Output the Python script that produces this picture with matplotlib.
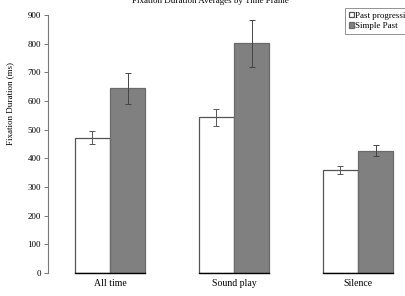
import matplotlib
matplotlib.use("Agg")
import matplotlib.pyplot as plt
import numpy as np

categories = ["All time", "Sound play", "Silence"]
series_names = ["Past progressive", "Simple Past"]
past_prog = [472, 543, 359]
past_prog_err = [23, 30, 14]
simple_past = [644, 801, 427]
simple_past_err = [55, 83, 19]
yticks = [0, 100, 200, 300, 400, 500, 600, 700, 800, 900]

plt.rcParams['font.family'] = ['Liberation Serif', 'DejaVu Serif']

W, H = 405, 296
fig = plt.figure(figsize=(W/100, H/100), dpi=100)
ax = fig.add_axes([48/W, 23/H, 372/W, 258/H])

x = np.arange(len(categories))
bw = 0.285
ax.bar(x - bw/2, past_prog, bw, color='white', edgecolor='#555555', linewidth=0.9,
       label=series_names[0], zorder=2)
ax.bar(x + bw/2, simple_past, bw, color='#808080', edgecolor='#6a6a6a', linewidth=0.9,
       label=series_names[1], zorder=2)
ax.errorbar(x - bw/2, past_prog, yerr=past_prog_err, fmt='none', ecolor='#555555',
            elinewidth=0.7, capsize=2.5, capthick=0.7, zorder=3)
ax.errorbar(x + bw/2, simple_past, yerr=simple_past_err, fmt='none', ecolor='#444444',
            elinewidth=0.7, capsize=2.5, capthick=0.7, zorder=3)
# baseline under bars
for xi in x:
    ax.plot([xi - bw, xi + bw], [0, 0], color='black', lw=1.0, zorder=4, clip_on=False)

ax.set_xlim(-0.5, 2.5)
ax.set_ylim(0, 900)
ax.set_yticks(yticks)
ax.set_xticks(x)
ax.set_xticklabels(categories, fontsize=7)
ax.tick_params(axis='x', length=0, pad=4)
ax.tick_params(axis='y', labelsize=6.5, length=3, width=0.7, color='#777777', pad=2)
for s in ['top', 'right', 'bottom']:
    ax.spines[s].set_visible(False)
ax.spines['left'].set_color('#777777')
ax.spines['left'].set_linewidth(0.8)

fig.text(10/W, 1 - 103/H, "Fixation Duration (ms)", rotation=90, fontsize=6.5,
         ha='center', va='center')
fig.text(210/W, 1 - 1/H, "Fixation Duration Averages by Time Frame", fontsize=6.5,
         ha='center', va='center')

leg = fig.legend(loc='upper left', bbox_to_anchor=(345/W, 1 - 8/H), fontsize=6.5,
                 frameon=True, fancybox=False, handlelength=0.6, handleheight=0.6,
                 handletextpad=0.1, borderpad=0.4, labelspacing=0.3, borderaxespad=0)
leg.get_frame().set_edgecolor('#777777')
leg.get_frame().set_linewidth(0.7)

fig.savefig("out.png", dpi=100)
